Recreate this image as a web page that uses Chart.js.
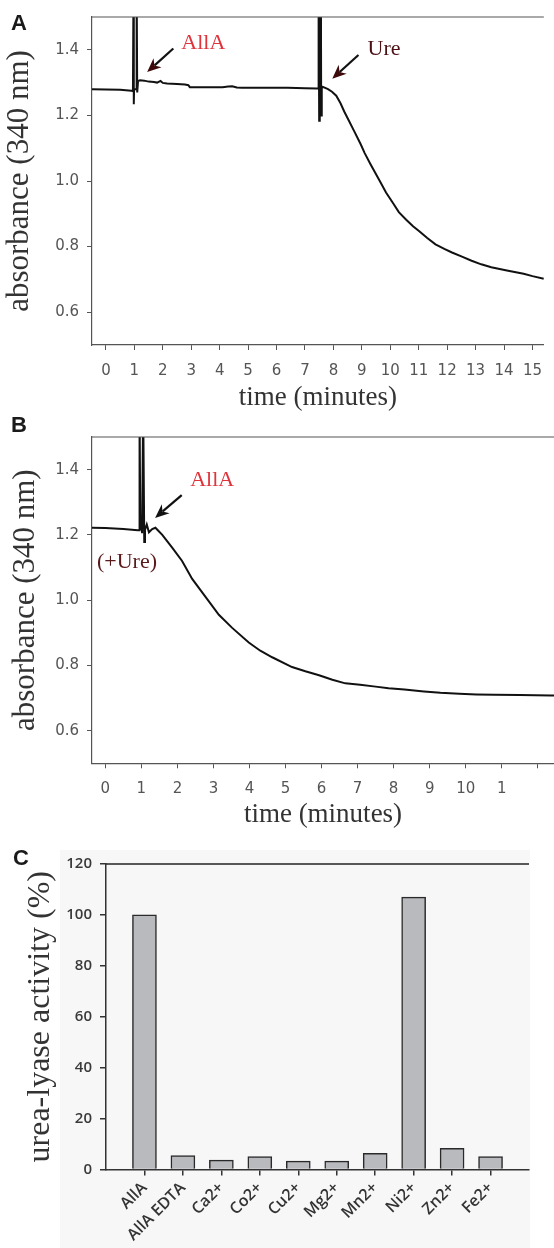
<!DOCTYPE html>
<html><head><meta charset="utf-8">
<script src="https://cdn.jsdelivr.net/npm/chart.js@4/dist/chart.umd.min.js"></script>
<style>
html,body{margin:0;padding:0;background:#fff;}
body{position:relative;width:554px;height:1248px;overflow:hidden;}
canvas{position:absolute;left:0;}
.lbl{position:absolute;font:bold 22px "Liberation Sans",Arial,sans-serif;color:#1a1a1a;line-height:22px;}
#bgC{position:absolute;left:60px;top:850px;width:470px;height:398px;background:#f7f7f7;}
</style></head><body>
<div id="bgC"></div>
<canvas id="cA" width="554" height="420" style="top:0px"></canvas>
<canvas id="cB" width="554" height="420" style="top:420px"></canvas>
<canvas id="cC" width="554" height="408" style="top:840px"></canvas>
<div class="lbl" style="left:11px;top:12px">A</div>
<div class="lbl" style="left:11px;top:414px">B</div>
<div class="lbl" style="left:13px;top:847px">C</div>
<script>
// ---------- Data ----------
// Panel A: absorbance trace (AllA added ~1 min, urease added ~7.5 min)
const aTime = [-0.49,0.0,0.5,0.9,0.95,0.97,0.98,0.99,1.06,1.08,1.10,1.13,1.2,1.35,1.5,1.69,1.8,1.92,2.0,2.15,2.5,2.78,2.9,2.95,3.5,4.1,4.3,4.44,4.6,4.78,5.5,6.39,7.0,7.42,7.47,7.48,7.50,7.52,7.56,7.57,7.59,7.65,7.81,7.95,8.10,8.25,8.38,8.55,8.73,8.96,9.1,9.30,9.65,9.85,10.10,10.3,10.56,10.8,11.02,11.3,11.59,11.9,12.17,12.5,12.86,13.2,13.55,14.1,14.69,15.0,15.4];
const aAbs  = [1.280,1.279,1.278,1.275,1.274,1.60,1.234,1.28,1.28,1.60,1.27,1.305,1.307,1.306,1.303,1.302,1.300,1.305,1.299,1.297,1.296,1.294,1.292,1.286,1.286,1.286,1.288,1.289,1.285,1.284,1.284,1.284,1.283,1.282,1.282,1.60,1.184,1.60,1.60,1.20,1.288,1.286,1.280,1.272,1.260,1.237,1.212,1.183,1.152,1.112,1.085,1.052,0.997,0.965,0.932,0.905,0.882,0.862,0.847,0.826,0.807,0.793,0.782,0.770,0.757,0.746,0.737,0.727,0.717,0.710,0.702];
// Panel B: urease pre-added, AllA added ~1 min
const bTime = [-0.37,0.0,0.5,0.9,0.94,0.95,0.97,0.99,1.02,1.05,1.07,1.08,1.10,1.15,1.21,1.30,1.39,1.45,1.58,1.72,1.86,2.13,2.41,2.78,3.15,3.52,3.98,4.3,4.63,5.18,5.55,5.93,6.3,6.66,7.07,7.5,7.86,8.3,8.84,9.3,9.82,10.3,10.8,11.5,12.37,12.45];
const bAbs  = [1.222,1.221,1.218,1.214,1.214,1.60,1.215,1.25,1.205,1.60,1.60,1.178,1.215,1.232,1.208,1.218,1.222,1.215,1.200,1.180,1.160,1.120,1.065,1.010,0.955,0.915,0.870,0.845,0.825,0.795,0.782,0.770,0.756,0.745,0.741,0.735,0.730,0.726,0.720,0.716,0.713,0.711,0.710,0.709,0.708,0.708];
// Tick values / labels
const absTickValues = [0.6,0.8,1.0,1.2,1.4];
const absTickLabels = ['0.6','0.8','1.0','1.2','1.4'];
const aTickValues = [0,1,2,3,4,5,6,7,8,9,10,11,12,13,14,15];
const aTickLabels = ['0','1','2','3','4','5','6','7','8','9','10','11','12','13','14','15'];
const bTickValues = [0,1,2,3,4,5,6,7,8,9,10,11,12];
const bTickLabels = ['0','1','2','3','4','5','6','7','8','9','10','1',''];
// Panel C: metal dependence
const cCategories = ['AllA','AllA EDTA','Ca2+','Co2+','Cu2+','Mg2+','Mn2+','Ni2+','Zn2+','Fe2+'];
const cActivity = [100,5.5,3.7,5.1,3.3,3.3,6.4,107,8.3,5.1];
const cTickValues = [0,20,40,60,80,100,120];
const cTickLabels = ['0','20','40','60','80','100','120'];

// ---------- Styles ----------
const serif = '"Liberation Serif","Times New Roman",serif';
const sans = '"DejaVu Sans",sans-serif';
const sansC = '"Open Sans",sans-serif';

const topFrame = {
  id: 'topFrame',
  afterDraw(chart, args, opts) {
    const {ctx, chartArea: a} = chart;
    ctx.save();
    ctx.strokeStyle = opts.color; ctx.lineWidth = opts.width;
    ctx.beginPath(); ctx.moveTo(a.left, a.top); ctx.lineTo(a.right, a.top); ctx.stroke();
    ctx.restore();
  }
};

function drawArrow(ctx, x1, y1, x2, y2, shaft, head) {
  const ang = Math.atan2(y2 - y1, x2 - x1);
  const c = Math.cos(ang), s = Math.sin(ang);
  const L = 14, W = 6;
  const bx = x2 - L * c, by = y2 - L * s;
  ctx.strokeStyle = shaft; ctx.lineWidth = 2.2; ctx.lineCap = 'butt';
  ctx.beginPath(); ctx.moveTo(x1, y1); ctx.lineTo(bx + 4 * c, by + 4 * s); ctx.stroke();
  ctx.fillStyle = head;
  ctx.beginPath();
  ctx.moveTo(x2, y2);
  ctx.lineTo(bx - W * s, by + W * c);
  ctx.lineTo(x2 - 0.7 * L * c, y2 - 0.7 * L * s);
  ctx.lineTo(bx + W * s, by - W * c);
  ctx.closePath(); ctx.fill();
}

function notesPlugin(notes) {
  return {
    id: 'notes',
    afterDraw(chart) {
      const {ctx, scales: {x, y}} = chart;
      ctx.save();
      notes.arrows.forEach(ar => {
        drawArrow(ctx, x.getPixelForValue(ar.from[0]), y.getPixelForValue(ar.from[1]),
                  x.getPixelForValue(ar.to[0]), y.getPixelForValue(ar.to[1]), ar.shaft, ar.head);
      });
      notes.texts.forEach(t => {
        ctx.font = '22px ' + serif;
        ctx.fillStyle = t.color;
        ctx.textAlign = 'left'; ctx.textBaseline = 'middle';
        ctx.fillText(t.text, x.getPixelForValue(t.at[0]), y.getPixelForValue(t.at[1]));
      });
      ctx.restore();
    }
  };
}

function traceChart(id, times, absorb, xMin, xMax, tickVals, tickLabels, xTitlePad, yTitlePad, xAxisH, notes) {
  return new Chart(document.getElementById(id), {
    type: 'line',
    data: { datasets: [{
      data: times.map((t, i) => ({x: t, y: absorb[i]})),
      borderColor: '#111', borderWidth: 2, pointRadius: 0, tension: 0, fill: false
    }]},
    options: {
      responsive: false, animation: false, devicePixelRatio: 1,
      layout: {padding: {top: 10, right: 0, left: 0, bottom: 0}},
      plugins: {legend: {display: false}, tooltip: {enabled: false}, topFrame: {color: '#555', width: 1.2}},
      scales: {
        x: {
          type: 'linear', min: xMin, max: xMax,
          afterBuildTicks: s => { s.ticks = tickVals.map(v => ({value: v})); },
          afterFit: s => { s.height = xAxisH; },
          ticks: {callback: (v, i) => tickLabels[i], autoSkip: false, maxRotation: 0,
                  font: {family: sans, size: 15}, color: '#555', padding: 12},
          grid: {display: true, drawOnChartArea: false, drawTicks: true, tickLength: 5, color: '#555'},
          border: {display: true, color: '#555', width: 1.2},
          title: {display: true, text: 'time (minutes)', font: {family: serif, size: 27},
                  color: '#333', padding: {top: 0, bottom: xTitlePad}}
        },
        y: {
          min: 0.5, max: 1.5,
          afterBuildTicks: s => { s.ticks = absTickValues.map(v => ({value: v})); },
          afterFit: s => { s.width = 92; },
          ticks: {callback: (v, i) => absTickLabels[i], font: {family: sans, size: 15}, color: '#555', padding: 8},
          grid: {display: true, drawOnChartArea: false, drawTicks: true, tickLength: 5, color: '#555'},
          border: {display: true, color: '#555', width: 1.2},
          title: {display: true, text: 'absorbance (340 nm)', font: {family: serif, size: 31},
                  color: '#333', padding: {top: yTitlePad, bottom: 0}}
        }
      }
    },
    plugins: [topFrame, notesPlugin(notes)]
  });
}

traceChart('cA', aTime, aAbs, -0.49, 15.4, aTickValues, aTickLabels, 6, 1, 75, {
  texts: [
    {text: 'AllA', at: [2.65, 1.419], color: '#e0343c'},
    {text: 'Ure', at: [9.2, 1.402], color: '#4b1014'}
  ],
  arrows: [
    {from: [2.37, 1.404], to: [1.45, 1.332], shaft: '#111', head: '#3d0a0c'},
    {from: [8.88, 1.384], to: [7.96, 1.312], shaft: '#111', head: '#3d0a0c'}
  ]
});

traceChart('cB', bTime, bAbs, -0.37, 12.45, bTickValues, bTickLabels, 9, 7.5, 76.7, {
  texts: [
    {text: 'AllA', at: [2.355, 1.367], color: '#e0343c'},
    {text: '(+Ure)', at: [-0.233, 1.117], color: '#5a1a1c'}
  ],
  arrows: [
    {from: [2.12, 1.322], to: [1.38, 1.252], shaft: '#111', head: '#111'}
  ]
});

new Chart(document.getElementById('cC'), {
  type: 'bar',
  data: { datasets: [{
    data: cCategories.map((c, i) => ({x: i, y: cActivity[i]})),
    backgroundColor: '#b9babe', borderColor: '#2a2a2a', borderWidth: 1.5, barThickness: 24
  }]},
  options: {
    responsive: false, animation: false, devicePixelRatio: 1,
    layout: {padding: {top: 24, right: 25, left: 0, bottom: 0}},
    plugins: {legend: {display: false}, tooltip: {enabled: false}, topFrame: {color: '#222', width: 1.6}},
    scales: {
      x: {
        type: 'linear', min: -1, max: 10, offset: false,
        afterBuildTicks: s => { s.ticks = cCategories.map((c, i) => ({value: i})); },
        afterFit: s => { s.height = 78.5; },
        ticks: {callback: (v, i) => cCategories[i], autoSkip: false, minRotation: 45, maxRotation: 45,
                font: {family: sansC, size: 16, weight: '600'}, color: '#333', padding: 3},
        grid: {display: true, offset: false, drawOnChartArea: false, drawTicks: true, tickLength: 6, color: '#333', lineWidth: 1.5},
        border: {display: true, color: '#333', width: 1.5}
      },
      y: {
        min: 0, max: 120,
        afterBuildTicks: s => { s.ticks = cTickValues.map(v => ({value: v})); },
        afterFit: s => { s.width = 106; },
        ticks: {callback: (v, i) => cTickLabels[i], font: {family: sansC, size: 15, weight: '600'}, color: '#3a3a3a', padding: 8},
        grid: {display: true, drawOnChartArea: false, drawTicks: true, tickLength: 6, color: '#333', lineWidth: 1.5},
        border: {display: true, color: '#333', width: 1.5},
        title: {display: true, text: 'urea-lyase activity (%)', font: {family: serif, size: 32},
                color: '#333', padding: {top: 21, bottom: 0}}
      }
    }
  },
  plugins: [topFrame]
});
</script>
</body></html>
